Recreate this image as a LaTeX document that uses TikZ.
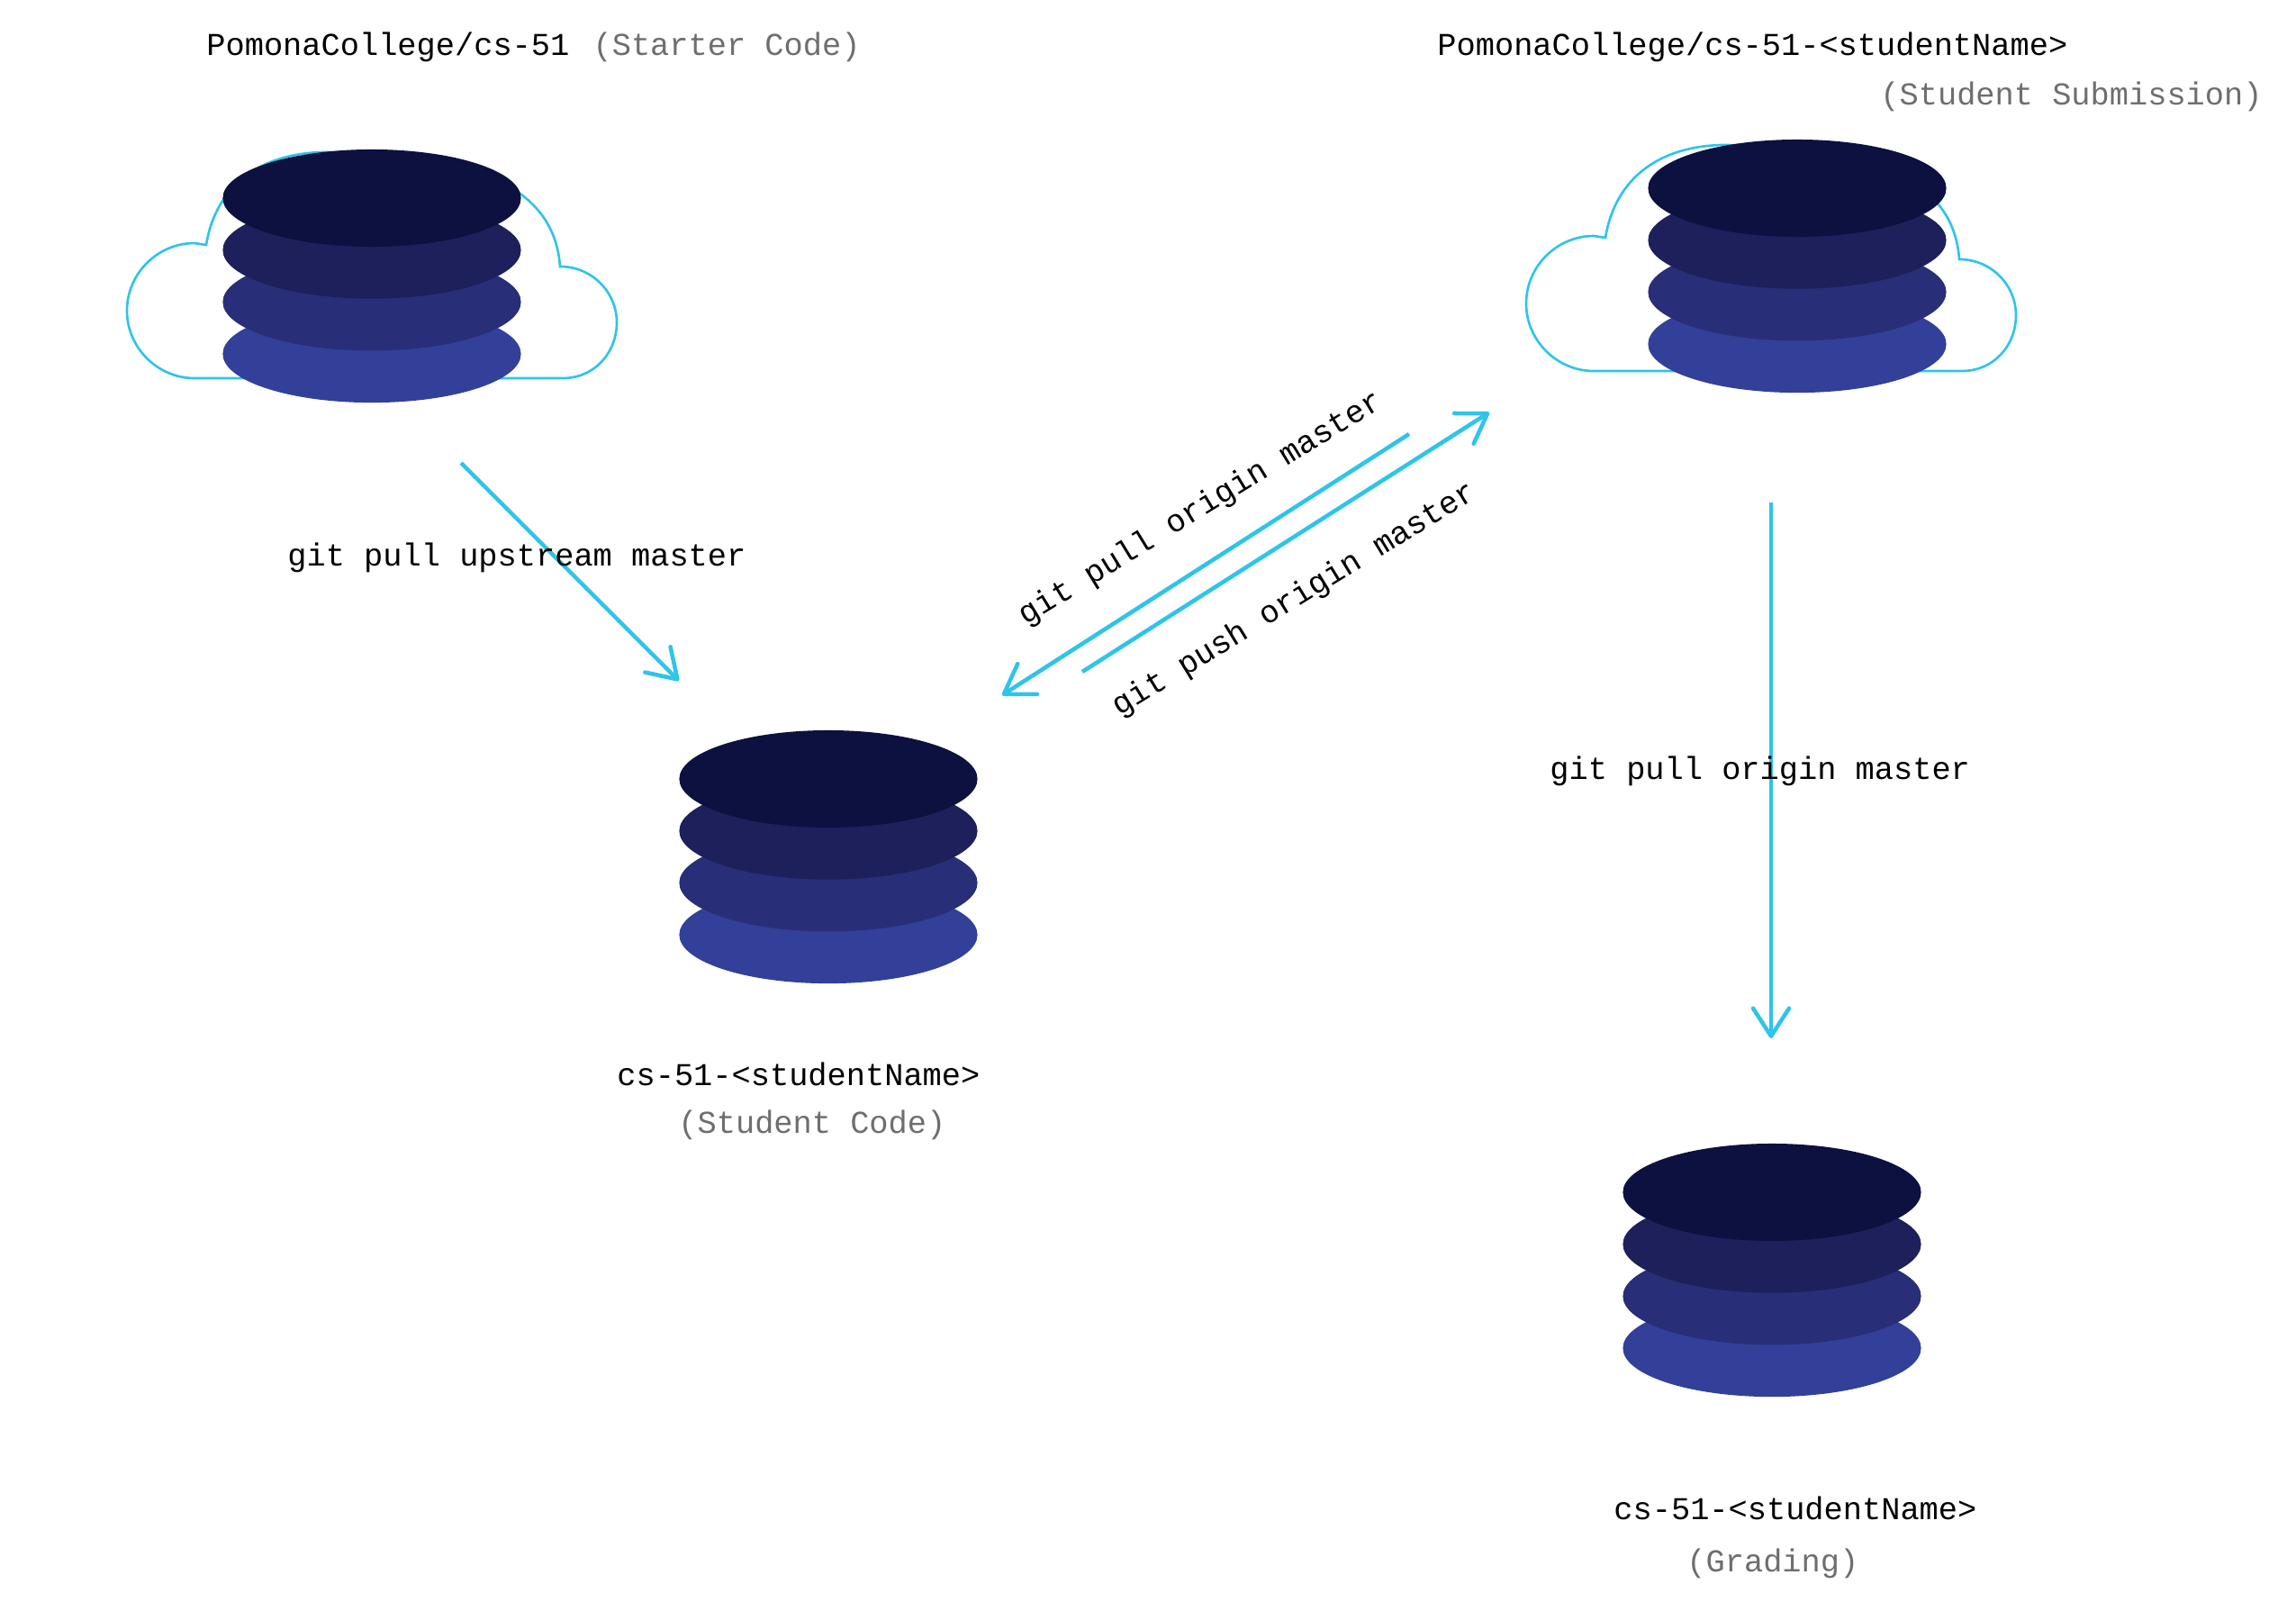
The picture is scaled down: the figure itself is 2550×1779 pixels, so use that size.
\documentclass[tikz,border=0pt]{standalone}
\usepackage{fontspec}
\setmonofont{Liberation Mono}
\usetikzlibrary{arrows.meta,shapes.geometric}
\definecolor{diskA}{HTML}{0C1140}
\definecolor{diskB}{HTML}{1E205B}
\definecolor{diskC}{HTML}{282F78}
\definecolor{diskD}{HTML}{32409A}
\definecolor{wire}{HTML}{2FC4E8}
\definecolor{note}{HTML}{6E6E6E}
\begin{document}
\begin{tikzpicture}[x=0.01cm, y=-0.01cm, every node/.style={font=\ttfamily\fontsize{10.05}{12}\selectfont},
	disk/.style={ellipse, minimum width=3.31cm, minimum height=1.08cm, inner sep=0pt},
	link/.style={wire, line width=1.3pt, -{Straight Barb[length=3.1mm, width=4mm, line width=1.3pt, round]}},
	cloudline/.style={wire, line width=0.75pt},
	note/.style={text=note}]
	\useasboundingbox (0,0) rectangle (2550,1779);
	\foreach \cx/\cy in {0/0, 1554/-8} {
		\draw[cloudline, shift={(\cx,\cy)}] (216,420) .. controls (175,420) and (141,386) .. (141,345) .. controls (141,304) and (175,270) .. (216,270) -- (229,272) .. controls (240,205) and (290,170) .. (360,169) .. controls (500,170) and (615,195) .. (622,296) .. controls (658,296) and (685,325) .. (685,358) .. controls (685,392) and (660,420) .. (625,420) -- cycle;
	}
	\foreach \s/\cx/\cy in {upstream/413/220, submit/1996/209, student/920/865, grading/1968/1324} {
		\foreach \i/\c in {3/diskD, 2/diskC, 1/diskB, 0/diskA} {\node[disk, fill=\c] (\s\i) at (\cx,\cy+57.7*\i) {};}
	}
	\node[anchor=base west] (upstreamname) at (217,62) {PomonaCollege/cs-51 \hspace{0.05cm}\textcolor{note}{(Starter Code)}};
	\node[anchor=base west] (submitname) at (1584,62) {PomonaCollege/cs-51-<studentName>};
	\node[anchor=base west, note] (submitnote) at (2076,117) {(Student Submission)};
	\node[anchor=base west] (studentname) at (673,1205) {cs-51-<studentName>};
	\node[anchor=base west, note] (studentnote) at (741,1258) {(Student Code)};
	\node[anchor=base west] (gradingname) at (1780,1687) {cs-51-<studentName>};
	\node[anchor=base west, note] (gradingnote) at (1861,1745) {(Grading)};
	\coordinate (a1) at (512,514); \coordinate (a2) at (754,756);
	\coordinate (b1) at (1565,482); \coordinate (b2) at (1113,772);
	\coordinate (c1) at (1202,746); \coordinate (c2) at (1654,458);
	\coordinate (d1) at (1967,558); \coordinate (d2) at (1967,1153);
	\draw[link] (a1) -- (a2);
	\draw[link] (b1) -- (b2);
	\draw[link] (c1) -- (c2);
	\draw[link] (d1) -- (d2);
	\node[anchor=base west] (pullupstream) at (307,628) {git pull upstream master};
	\node[rotate=31.5] (pullorigin) at (1334,565) {git pull origin master};
	\node[rotate=31.5] (pushorigin) at (1438,666) {git push origin master};
	\node[anchor=base west] (pullgrading) at (1709,865) {git pull origin master};
\end{tikzpicture}
\end{document}
